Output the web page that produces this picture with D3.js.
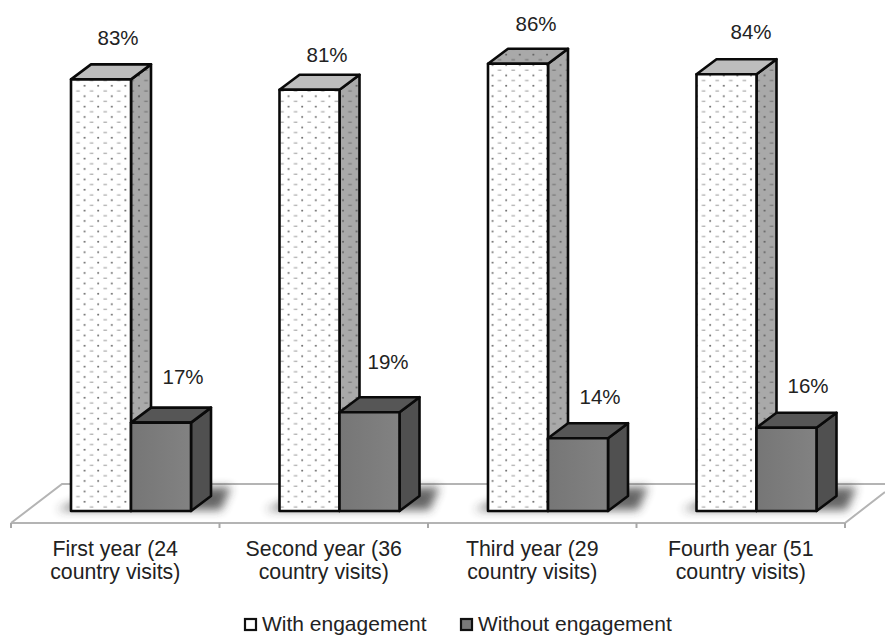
<!DOCTYPE html>
<html>
<head>
<meta charset="utf-8">
<script src="https://cdn.jsdelivr.net/npm/d3@7"></script>
<style>
html,body{margin:0;padding:0;background:#fff}
svg{display:block}
text{font-family:"Liberation Sans",Arial,sans-serif;fill:#222}
</style>
</head>
<body>
<svg id="chart" width="885" height="635"></svg>
<script>
// Share of country visits per year, with and without engagement
const categories = [
  ["First year (24", "country visits)"],
  ["Second year (36", "country visits)"],
  ["Third year (29", "country visits)"],
  ["Fourth year (51", "country visits)"]
];
const seriesNames = ["With engagement", "Without engagement"];
const withEngagement = [83, 81, 86, 84];
const withoutEngagement = [17, 19, 14, 16];

const svg = d3.select("#chart");
const baseY = 511, depthX = 20, depthY = 15, fontSize = 21;
const groupX = d3.scaleBand().domain(d3.range(categories.length)).range([11, 845]);
const barX = d3.scaleBand().domain([0, 1]).range([60, 180]);
const y = d3.scaleLinear().domain([0, 100]).range([baseY, -9]);
const line = d3.line();

const defs = svg.append("defs");

// Dotted fill shared by the light front faces and their side walls
function dotPattern(id, bg, dark, light) {
  const p = defs.append("pattern").attr("id", id).attr("patternUnits", "userSpaceOnUse")
    .attr("width", 13.6).attr("height", 10.4);
  p.append("rect").attr("width", 13.6).attr("height", 10.4).attr("fill", bg);
  p.append("circle").attr("cx", 3).attr("cy", 2.6).attr("r", 1).attr("fill", dark);
  p.append("rect").attr("x", 8.2).attr("y", 7.2).attr("width", 3.6).attr("height", 1.2).attr("fill", light);
}
dotPattern("dotsFront", "#ffffff", "#666", "#aaa");
dotPattern("dotsSide", "#a9a9a9", "#5c5c5c", "#777");

const frontGrad = defs.append("linearGradient").attr("id", "darkFront");
frontGrad.append("stop").attr("offset", 0).attr("stop-color", "#767676");
frontGrad.append("stop").attr("offset", 1).attr("stop-color", "#828282");

defs.append("filter").attr("id", "soft").attr("x", "-30%").attr("y", "-100%")
  .attr("width", "160%").attr("height", "300%")
  .append("feGaussianBlur").attr("stdDeviation", 5);

// Floor plane
const floorY = 523, floorBack = 484, floorRight = 885;
svg.append("path").attr("d", `M11,${floorY}L62,${floorBack}L${floorRight},${floorBack}`)
  .attr("fill", "none").attr("stroke", "#b4b4b4").attr("stroke-width", 2);
svg.append("path").attr("d", `M${floorRight},492L845,${floorY}L11,${floorY}`)
  .attr("fill", "none").attr("stroke", "#b4b4b4").attr("stroke-width", 2);

// Tick marks sit on the band boundaries
d3.range(categories.length + 1).forEach(i => {
  const tx = 11 + i * groupX.step();
  svg.append("line").attr("x1", tx).attr("x2", tx).attr("y1", floorY).attr("y2", 528)
    .attr("stroke", "#a8a8a8").attr("stroke-width", 2);
});

// Soft cast shadows on the floor
categories.forEach((c, i) => {
  const x0 = groupX(i) + barX(0);
  svg.append("path")
    .attr("d", line([[x0 - 14, baseY - 1], [x0 + 30, baseY - 20], [x0 + 160, baseY - 24], [x0 + 150, baseY - 1]]) + "Z")
    .attr("fill", "#333").attr("opacity", 0.75).attr("filter", "url(#soft)");
});

const stroke = "#0a0a0a";
function bar(x0, w, v, front, top, side) {
  const yTop = y(v);
  const g = svg.append("g").attr("stroke", stroke).attr("stroke-width", 2.6).attr("stroke-linejoin", "round");
  g.append("path").attr("fill", side)
    .attr("d", line([[x0 + w, yTop], [x0 + w + depthX, yTop - depthY], [x0 + w + depthX, baseY - depthY], [x0 + w, baseY]]) + "Z");
  g.append("path").attr("fill", top)
    .attr("d", line([[x0, yTop], [x0 + depthX, yTop - depthY], [x0 + w + depthX, yTop - depthY], [x0 + w, yTop]]) + "Z");
  g.append("rect").attr("x", x0).attr("y", yTop).attr("width", w).attr("height", baseY - yTop).attr("fill", front);
}

// Value labels float clear of the bar tops, offset per bar
const labelShiftX = [[17, 17.5, 18, 24.5], [22, 18.5, 22, 21.5]];
const labelShiftY = [[41.4, 34.8, 39.8, 42.2], [45.6, 50.2, 41.2, 41.8]];
function valueLabel(x0, w, v, s, i) {
  svg.append("text").attr("x", x0 + w / 2 + labelShiftX[s][i]).attr("y", y(v) - labelShiftY[s][i])
    .attr("dy", "0.35em").attr("text-anchor", "middle").attr("font-size", 20.5).text(v + "%");
}

categories.forEach((c, i) => {
  const x0 = groupX(i) + barX(0), x1 = groupX(i) + barX(1), w = barX.bandwidth();
  // The third year's lid carries the same dotted fill as its side wall
  const lid = i === 2 ? "url(#dotsSide)" : "#bdbdbd";
  bar(x0, w, withEngagement[i], "url(#dotsFront)", lid, "url(#dotsSide)");
  bar(x1, w, withoutEngagement[i], "url(#darkFront)", "#565656", "#505050");
  valueLabel(x0, w, withEngagement[i], 0, i);
  valueLabel(x1, w, withoutEngagement[i], 1, i);
  const t = svg.append("text").attr("text-anchor", "middle").attr("font-size", 21.3);
  c.forEach((ln, k) => t.append("tspan")
    .attr("x", groupX(i) + groupX.bandwidth() / 2).attr("y", 556 + k * 22.5).text(ln));
});

// Legend
const legendX = [244, 460];
const legendTextX = [262, 478];
seriesNames.forEach((name, i) => {
  svg.append("rect").attr("x", legendX[i] + 1).attr("y", 619).attr("width", 11).attr("height", 11)
    .attr("fill", i ? "#7a7a7a" : "#fff").attr("stroke", "#111").attr("stroke-width", 2.2);
  svg.append("text").attr("x", legendTextX[i]).attr("y", 631).attr("font-size", fontSize).text(name);
});
</script>
</body>
</html>
